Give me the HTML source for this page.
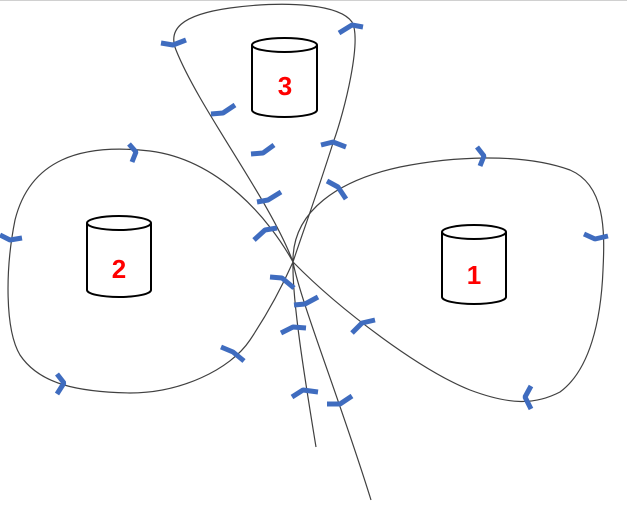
<!DOCTYPE html>
<html><head><style>
html,body{margin:0;padding:0;background:#fff;width:627px;height:508px;overflow:hidden}
svg{display:block}
text{font-family:"Liberation Sans",sans-serif;font-weight:bold;font-size:26px;fill:#ff0000}
</style></head><body>
<svg width="627" height="508" viewBox="0 0 627 508" xmlns="http://www.w3.org/2000/svg">
<line x1="0" y1="0.5" x2="627" y2="0.5" stroke="#d0d0d0"/>
<g fill="none" stroke="#404040" stroke-width="1.2">
<path d="M371,500 C340,400 300,300 293,262 C270,200 200,110 176,50 C168,30 180,15 230,8 C290,0 340,5 352,22 C362,40 345,110 333,143 C315,200 300,240 293,262 C292,300 305,380 316,447"/>
<path d="M293,262 C270,220 220,160 150,151 C80,143 30,160 15,220 C5,270 5,330 20,355 C40,385 80,392 130,393 C180,393 230,370 250,340 C270,310 285,280 293,262"/>
<path d="M293,262 C292,210 340,180 400,167 C450,157 520,152 570,170 C605,185 605,230 603,270 C601,320 590,370 560,392 C535,405 510,405 470,390 C420,370 340,310 293,262"/>
</g>
<g fill="none" stroke="#3f6cbf" stroke-width="5" stroke-linejoin="bevel">
<polyline points="161,43 173,45 186,40"/>
<polyline points="339,33 352,25 363,27"/>
<polyline points="211,114 223,113 235,105"/>
<polyline points="251,154 263,153 274,145"/>
<polyline points="321,145 333,142 346,147"/>
<polyline points="257,202 268,200 281,192"/>
<polyline points="327,181 338,187 346,199"/>
<polyline points="254,240 265,230 277,228"/>
<polyline points="270,277 282,278 294,288"/>
<polyline points="294,305 305,304 318,297"/>
<polyline points="281,333 293,327 306,328"/>
<polyline points="352,333 362,323 375,320"/>
<polyline points="292,397 303,390 318,392"/>
<polyline points="327,404 340,404 352,396"/>
<polyline points="129,144 136,152 132,162"/>
<polyline points="0,235 10,240 22,238"/>
<polyline points="57,374 64,383 57,394"/>
<polyline points="221,347 233,352 244,361"/>
<polyline points="477,147 484,156 480,166"/>
<polyline points="584,234 595,239 608,236"/>
<polyline points="531,386 525,397 531,409"/>
</g>
<g fill="#fff" stroke="#000" stroke-width="2">
<path d="M252,45 L252,110 A32.5,7 0 0 0 317,110 L317,45"/>
<ellipse cx="284.5" cy="45" rx="32.5" ry="7"/>
<path d="M87,223 L87,290 A32,7 0 0 0 151,290 L151,223"/>
<ellipse cx="119" cy="223" rx="32" ry="7"/>
<path d="M442,232 L442,297 A32,7 0 0 0 506,297 L506,232"/>
<ellipse cx="474" cy="232" rx="32" ry="7"/>
</g>
<text x="285" y="95" text-anchor="middle">3</text>
<text x="119" y="278" text-anchor="middle">2</text>
<text x="474" y="284" text-anchor="middle">1</text>
</svg>
</body></html>
